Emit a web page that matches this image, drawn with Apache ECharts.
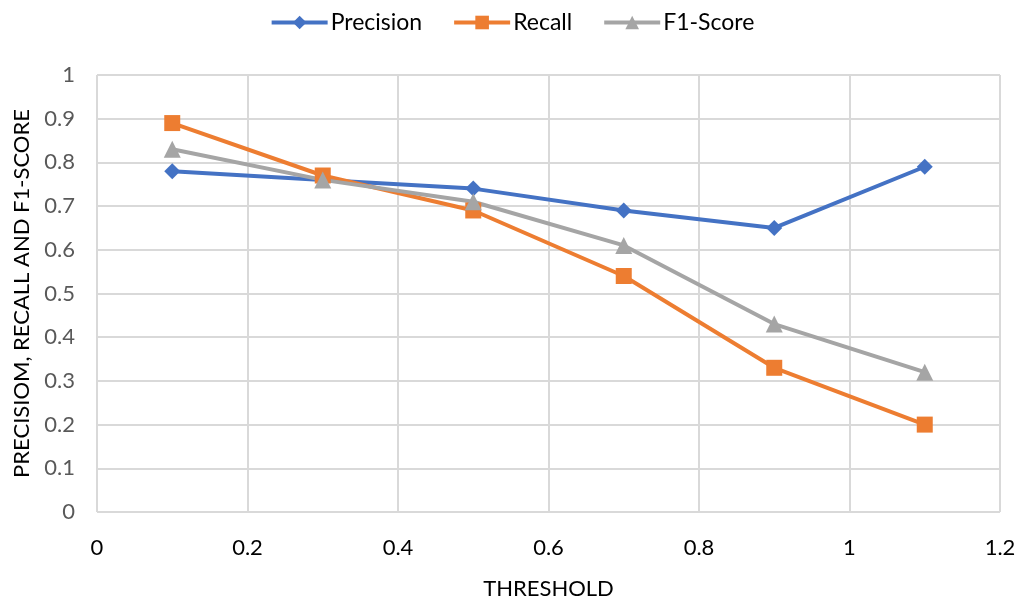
<!DOCTYPE html>
<html>
<head>
<meta charset="utf-8">
<script src="https://cdn.jsdelivr.net/npm/echarts@6/dist/echarts.min.js"></script>
<style>
  html, body { margin: 0; padding: 0; background: #fff; }
  #chart { width: 1024px; height: 603px; }
</style>
</head>
<body>
<div id="chart"></div>
<script>
// Threshold values on the x axis
const thresholds = [0.1, 0.3, 0.5, 0.7, 0.9, 1.1];
// Metric values at each threshold
const precision = [0.78, 0.76, 0.74, 0.69, 0.65, 0.79];
const recall    = [0.89, 0.77, 0.69, 0.54, 0.33, 0.20];
const f1Score   = [0.83, 0.76, 0.71, 0.61, 0.43, 0.32];

const FONT = 'Lato, "Liberation Sans", sans-serif';

function pairs(ys) {
  return thresholds.map((x, i) => [x, ys[i]]);
}

const chart = echarts.init(document.getElementById('chart'), null, { renderer: 'canvas' });

chart.setOption({
  backgroundColor: '#ffffff',
  animation: false,
  textStyle: { fontFamily: FONT },
  legend: {
    top: 6,
    left: 'center',
    itemWidth: 56,
    itemHeight: 17,
    itemGap: 30,
    lineStyle: { width: 4 },
    textStyle: { fontFamily: FONT, fontSize: 23, color: '#000', padding: [0, 0, 0, -2] },
    data: ['Precision', 'Recall', 'F1-Score']
  },
  grid: { left: 97, right: 24, top: 75, bottom: 91, containLabel: false, outerBoundsMode: 'none' },
  xAxis: {
    type: 'value',
    min: 0, max: 1.2, interval: 0.2,
    name: 'THRESHOLD',
    nameLocation: 'middle',
    nameGap: 66,
    nameTextStyle: { fontFamily: FONT, fontSize: 22, color: '#000' },
    axisLine: { show: false },
    axisTick: { show: false },
    axisLabel: { fontFamily: FONT, fontSize: 22, color: '#000', margin: 25,
      formatter: v => String(Math.round(v * 10) / 10) },
    splitLine: { show: true, lineStyle: { color: '#d9d9d9', width: 2 } }
  },
  yAxis: {
    type: 'value',
    min: 0, max: 1, interval: 0.1,
    name: 'PRECISIOM, RECALL AND F1-SCORE',
    nameLocation: 'middle',
    nameGap: 63,
    nameRotate: 90,
    nameTextStyle: { fontFamily: FONT, fontSize: 22, color: '#000' },
    axisLine: { show: false },
    axisTick: { show: false },
    axisLabel: { fontFamily: FONT, fontSize: 22, color: '#595959', margin: 22,
      formatter: v => String(Math.round(v * 10) / 10) },
    splitLine: { show: true, lineStyle: { color: '#d9d9d9', width: 2 } }
  },
  series: [
    {
      name: 'Precision', type: 'line', data: pairs(precision),
      symbol: 'diamond', symbolSize: 16,
      lineStyle: { color: '#4472c4', width: 4 },
      itemStyle: { color: '#4472c4' }
    },
    {
      name: 'Recall', type: 'line', data: pairs(recall),
      symbol: 'rect', symbolSize: 16,
      lineStyle: { color: '#ed7d31', width: 4 },
      itemStyle: { color: '#ed7d31' }
    },
    {
      name: 'F1-Score', type: 'line', data: pairs(f1Score),
      symbol: 'triangle', symbolSize: 17,
      lineStyle: { color: '#a5a5a5', width: 4 },
      itemStyle: { color: '#a5a5a5' }
    }
  ]
});
</script>
</body>
</html>
